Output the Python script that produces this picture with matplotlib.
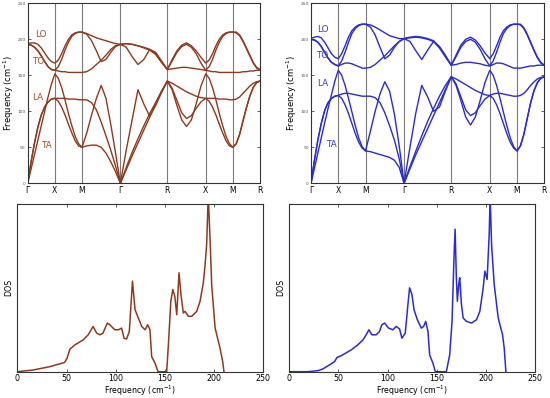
import matplotlib
matplotlib.use("Agg")
import matplotlib.pyplot as plt
import numpy as np

# ---------------- data ----------------
path_labels = ["Γ", "X", "M", "Γ", "R", "X", "M", "R"]
path_dist = [0.0, 0.5, 1.0, 1.707, 2.573, 3.280, 3.780, 4.280]
seg_frac = [0, 0.125, 0.25, 0.375, 0.5, 0.625, 0.75, 0.875, 1.0]

# Left panel bands (cm^-1), 7 path segments, 9 samples each
left_A1 = [[0, 30, 56, 78, 95, 106, 113, 117, 118],
           [118, 114, 106, 95, 82, 70, 59, 52, 50],
           [50, 52, 53, 53, 50, 42, 30, 16, 0],
           [0, 19, 38, 56, 74, 92, 110, 127, 142],
           [142, 132, 115, 98, 90, 94, 104, 113, 118],
           [118, 114, 106, 95, 82, 70, 59, 52, 50],
           [50, 55, 68, 87, 105, 121, 133, 140, 142]]
left_A2 = [[0, 30, 56, 78, 95, 106, 113, 117, 118],
           [118, 118, 118, 118, 117, 117, 117, 116, 116],
           [116, 116, 112, 102, 85, 66, 46, 24, 0],
           [0, 22, 43, 62, 80, 97, 112, 128, 142],
           [142, 139, 135, 131, 127, 124, 121, 119, 118],
           [118, 118, 118, 118, 117, 117, 117, 116, 116],
           [116, 117, 120, 125, 130, 135, 139, 141, 142]]
left_A3 = [[0, 20, 40, 60, 80, 100, 120, 138, 152],
           [152, 146, 133, 116, 97, 80, 65, 55, 50],
           [50, 70, 95, 118, 136, 118, 82, 42, 0],
           [0, 46, 88, 130, 110, 93, 108, 126, 142],
           [142, 130, 108, 88, 79, 88, 110, 135, 152],
           [152, 146, 133, 116, 97, 80, 65, 55, 50],
           [50, 55, 68, 87, 105, 121, 133, 140, 142]]
left_U1 = [[193, 192, 189, 184, 177, 169, 162, 158, 157],
           [157, 156, 155, 155, 154, 154, 154, 154, 154],
           [154, 155, 159, 165, 171, 178, 186, 191, 193],
           [193, 194, 193, 191, 189, 186, 180, 169, 158],
           [158, 159, 160, 161, 161, 160, 159, 158, 157],
           [157, 156, 155, 155, 154, 154, 154, 154, 154],
           [154, 154, 154, 155, 155, 156, 156, 157, 157]]
left_U2 = [[193, 192, 189, 184, 177, 169, 162, 158, 157],
           [157, 162, 172, 185, 196, 204, 208, 210, 210],
           [210, 207, 198, 184, 169, 172, 182, 190, 193],
           [193, 189, 176, 165, 172, 186, 182, 170, 158],
           [158, 170, 182, 190, 193, 189, 180, 167, 157],
           [157, 162, 172, 185, 196, 204, 208, 210, 210],
           [210, 209, 205, 197, 187, 177, 167, 160, 158]]
left_U3 = [[194, 195, 195, 193, 188, 181, 174, 169, 167],
           [167, 171, 180, 191, 200, 206, 209, 210, 210],
           [210, 208, 205, 202, 200, 198, 196, 194, 193],
           [193, 194, 193, 191, 188, 185, 179, 168, 158],
           [158, 172, 184, 192, 195, 191, 184, 175, 167],
           [167, 171, 180, 191, 200, 206, 209, 210, 210],
           [210, 210, 206, 198, 188, 178, 168, 161, 158]]

# Right panel bands
right_A1 = [[0, 32, 60, 83, 101, 112, 118, 121, 122],
            [122, 118, 109, 97, 83, 69, 57, 49, 45],
            [45, 44, 42, 40, 38, 36, 32, 22, 0],
            [0, 20, 40, 58, 76, 94, 112, 130, 148],
            [148, 138, 120, 102, 94, 98, 108, 117, 122],
            [122, 118, 109, 97, 83, 69, 57, 49, 45],
            [45, 52, 68, 90, 112, 129, 140, 146, 148]]
right_A2 = [[0, 32, 60, 83, 101, 112, 118, 121, 122],
            [122, 124, 125, 125, 124, 123, 122, 121, 121],
            [121, 121, 119, 112, 98, 80, 60, 34, 0],
            [0, 23, 45, 66, 86, 104, 121, 136, 148],
            [148, 145, 141, 137, 133, 129, 126, 123, 122],
            [122, 124, 125, 125, 124, 123, 122, 121, 121],
            [121, 122, 125, 130, 136, 141, 145, 147, 148]]
right_A3 = [[0, 21, 42, 63, 84, 104, 123, 142, 157],
            [157, 150, 136, 118, 99, 80, 63, 51, 45],
            [45, 72, 100, 124, 141, 128, 96, 52, 0],
            [0, 50, 98, 136, 120, 100, 106, 128, 148],
            [148, 136, 115, 92, 81, 92, 115, 140, 157],
            [157, 150, 136, 118, 99, 80, 63, 51, 45],
            [45, 52, 68, 90, 112, 129, 140, 146, 148]]
right_U1 = [[200, 199, 196, 190, 182, 174, 168, 165, 163],
            [163, 165, 167, 167, 166, 164, 162, 160, 160],
            [160, 161, 165, 171, 177, 184, 191, 197, 201],
            [201, 202, 203, 202, 200, 197, 188, 176, 164],
            [164, 165, 167, 168, 168, 167, 166, 164, 163],
            [163, 165, 167, 167, 166, 164, 162, 160, 160],
            [160, 160, 161, 162, 163, 163, 164, 164, 164]]
right_U2 = [[200, 199, 196, 190, 182, 174, 168, 165, 163],
            [163, 170, 182, 196, 208, 215, 219, 221, 221],
            [221, 217, 206, 189, 173, 178, 189, 197, 201],
            [201, 197, 184, 172, 185, 197, 190, 178, 164],
            [164, 176, 189, 197, 200, 196, 186, 173, 163],
            [163, 170, 182, 196, 208, 215, 219, 221, 221],
            [221, 220, 215, 206, 195, 184, 174, 167, 164]]
right_U3 = [[201, 203, 204, 202, 196, 188, 180, 175, 173],
            [173, 180, 191, 203, 212, 217, 220, 221, 221],
            [221, 220, 217, 213, 209, 205, 203, 201, 201],
            [201, 203, 204, 203, 201, 198, 189, 176, 164],
            [164, 178, 192, 200, 203, 199, 191, 181, 173],
            [173, 180, 191, 203, 212, 217, 220, 221, 221],
            [221, 221, 216, 207, 196, 185, 175, 168, 164]]

# DOS curves (frequency in cm^-1, DOS in arbitrary units)
left_dos_freq = [0, 16, 33, 48, 50.5, 53.5, 58.6, 67, 72, 77, 80.6, 84, 87, 91.5, 94,
                 99, 102.7, 106, 108.4, 111, 113.8, 117, 119.6, 123, 126.4, 129.8, 132.5,
                 134.8, 136.5, 140, 143, 151.8, 153.5, 156, 158, 160, 162, 164.3, 166.3,
                 168.7, 170.4, 173.8, 177.2, 182.3, 185.7, 189, 190.7, 192.4, 194, 195.8,
                 197.5, 201, 206, 208.7, 210]
left_dos_val = [0, .01, .03, .055, .08, .135, .16, .19, .22, .27, .23, .22, .23, .29, .28,
                .25, .25, .26, .20, .195, .24, .54, .37, .32, .27, .25, .28,
                .25, .09, .05, 0, 0, .16, .42, .49, .45, .34, .59, .46,
                .35, .36, .33, .33, .36, .42, .53, .63, .76, 1.05, .80,
                .52, .26, .14, .06, 0]
right_dos_freq = [0, 18.7, 29, 34, 40.8, 46, 48.6, 52.7, 63, 69.7, 75, 78.2, 81, 84, 88.4,
                  91.8, 94.2, 97, 101, 105.4, 108.8, 112.2, 114.6, 118, 120.7, 122.4, 124.8,
                  126.9, 130.3, 134.3, 136.7, 138.8, 141.1, 142.8, 146.2, 148.6, 159.8,
                  163.2, 165.6, 167.7, 168.7, 170, 171, 172.4, 173.4, 175.2, 176.9, 180.3,
                  185.4, 190.5, 193.9, 197.3, 199, 201.3, 203.4, 204.4, 205.8, 208.5,
                  212.6, 217, 218.7, 220.4]
right_dos_val = [0, 0, .006, .016, .04, .06, .085, .095, .13, .16, .19, .22, .25, .22, .22,
                 .24, .28, .29, .26, .25, .27, .255, .20, .23, .40, .50, .46,
                 .37, .31, .26, .27, .30, .24, .10, .05, 0, 0,
                 .10, .30, .70, .85, .56, .42, .52, .56, .40, .32, .30,
                 .29, .31, .36, .50, .60, .55, .82, 1.05, .76, .52,
                 .32, .22, .14, 0]

mode_labels = ["LO", "TO", "LA", "TA"]
left_label_pos = [(0.25, 206), (0.19, 169), (0.18, 119), (0.34, 52)]
right_label_pos = [(0.22, 213), (0.21, 178), (0.21, 139), (0.37, 54)]

left_color = "#8e3a1e"
right_color = "#2b2bd4"
left_text_color = "#a8502a"
right_text_color = "#3a3ad6"

# ---------------- helpers ----------------
def join_segments(segs):
    out = list(segs[0])
    for s in segs[1:]:
        out += list(s[1:])
    return out

kpts = [path_dist[0]]
for i in range(len(path_dist) - 1):
    a, b = path_dist[i], path_dist[i + 1]
    kpts += [a + (b - a) * f for f in seg_frac[1:]]


def style_axes(ax):
    for sp in ax.spines.values():
        sp.set_linewidth(0.8)
        sp.set_color("#333333")
    ax.tick_params(direction="in", top=True, right=True, width=0.6, length=2.5,
                   color="#444444")


def draw_bands(ax, bands, color, text_color, label_pos):
    for b in bands:
        ax.plot(kpts, join_segments(b), color=color, lw=1.0, solid_joinstyle="round")
    for x in path_dist[1:-1]:
        ax.axvline(x, color="#7a7a7a", lw=0.8, zorder=0)
    ax.set_xlim(path_dist[0], path_dist[-1])
    ax.set_ylim(0, 250)
    ax.set_xticks(path_dist)
    ax.set_xticklabels(path_labels, fontsize=5.5)
    ax.set_yticks([0, 50, 100, 150, 200, 250])
    style_axes(ax)
    ax.tick_params(axis="y", labelsize=3.2, labelcolor="#555555", pad=1.5)
    ax.tick_params(axis="x", length=0, pad=2)
    ax.set_ylabel("Frequency (cm$^{-1}$)", fontsize=6, labelpad=1)
    for lab, (x, y) in zip(mode_labels, label_pos):
        ax.text(x, y, lab, color=text_color, fontsize=6.3, ha="center", va="center")


def draw_dos(ax, freq, val, color):
    ax.plot(freq, val, color=color, lw=1.1)
    ax.set_xlim(0, 250)
    ax.set_ylim(0, 1.0)
    ax.set_xticks([0, 50, 100, 150, 200, 250])
    ax.set_yticks([])
    style_axes(ax)
    ax.tick_params(axis="x", labelsize=5.7, pad=1.5)
    ax.set_xlabel("Frequency (cm$^{-1}$)", fontsize=5.7, labelpad=0.5)
    ax.set_ylabel("DOS", fontsize=5.7, labelpad=3)


fig = plt.figure(figsize=(5.5, 3.98), dpi=100)
ax_tl = fig.add_axes([0.0504, 0.5394, 0.4223, 0.4523])
ax_tr = fig.add_axes([0.5655, 0.5394, 0.4241, 0.4523])
ax_bl = fig.add_axes([0.0315, 0.0661, 0.4473, 0.4213])
ax_br = fig.add_axes([0.5260, 0.0661, 0.4467, 0.4213])

draw_bands(ax_tl, [left_A1, left_A2, left_A3, left_U1, left_U2, left_U3],
           left_color, left_text_color, left_label_pos)
draw_bands(ax_tr, [right_A1, right_A2, right_A3, right_U1, right_U2, right_U3],
           right_color, right_text_color, right_label_pos)
draw_dos(ax_bl, left_dos_freq, left_dos_val, left_color)
draw_dos(ax_br, right_dos_freq, right_dos_val, right_color)

fig.savefig("out.png", dpi=100)
